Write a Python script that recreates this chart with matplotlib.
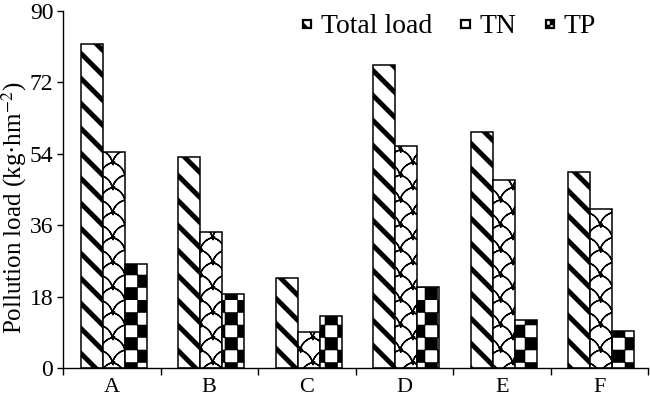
import numpy as np
import matplotlib
matplotlib.use("Agg")
import matplotlib.pyplot as plt
import matplotlib.hatch as mhatch
from matplotlib.path import Path
from matplotlib.patches import Rectangle
from matplotlib.legend_handler import HandlerPatch

# ---------------- data ----------------
categories = ["A", "B", "C", "D", "E", "F"]
total_load = [81.7, 53.2, 22.7, 76.4, 59.5, 49.4]
tn_load = [54.5, 34.3, 9.1, 56.0, 47.4, 40.1]
tp_load = [26.2, 18.6, 13.1, 20.4, 12.1, 9.3]
series_names = ["Total load", "TN", "TP"]
y_ticks = [0, 18, 36, 54, 72, 90]

# ---------------- custom hatch patterns ----------------
_orig_get_path = mhatch.get_path


def _stripes_path():
    verts, codes = [], []
    w = 0.05
    for c in np.arange(-0.5, 2.51, 0.25):
        x0, x1 = -0.2, 1.2
        pts = [(x0, -x0 + c), (x1, -x1 + c), (x1, -x1 + c + w), (x0, -x0 + c + w), (x0, -x0 + c)]
        verts += pts
        codes += [Path.MOVETO, Path.LINETO, Path.LINETO, Path.LINETO, Path.CLOSEPOLY]
    return Path(np.array(verts), codes)


def _checker_path():
    verts, codes = [], []
    n = 8
    s = 1.0 / n
    m = 0.004
    for i in range(n):
        for j in range(n):
            if (i + j) % 2 == 0:
                x, y = i * s, j * s
                verts += [(x + m, y + m), (x + s - m, y + m), (x + s - m, y + s - m),
                          (x + m, y + s - m), (x + m, y + m)]
                codes += [Path.MOVETO, Path.LINETO, Path.LINETO, Path.LINETO, Path.CLOSEPOLY]
    return Path(np.array(verts), codes)


def _scallop_path():
    verts, codes = [], []
    step = 0.25
    bow = 0.025
    t = np.linspace(0, 1, 9)

    def add_curve(p0, p1):
        p0 = np.array(p0)
        p1 = np.array(p1)
        d = p1 - p0
        nrm = np.array([-d[1], d[0]])
        nrm = nrm / np.linalg.norm(nrm)
        pts = [p0 + d * tt + nrm * bow * 4 * tt * (1 - tt) for tt in t]
        full = pts + pts[::-1][1:]
        verts.extend(full)
        codes.extend([Path.MOVETO] + [Path.LINETO] * (len(full) - 1))

    h = step / 2
    for i in range(-2, 10):
        for j in range(-2, 10):
            if (i + j) % 2 != 0:
                continue
            p = (i * h, j * h)
            add_curve(p, ((i + 1) * h, (j + 1) * h))
            add_curve(p, ((i + 1) * h, (j - 1) * h))
    return Path(np.array(verts), codes)


_custom = {"*-": _stripes_path(), "*+": _checker_path(), "*|": _scallop_path()}


def _get_path(hatchpattern, density=6):
    if hatchpattern in _custom:
        return _custom[hatchpattern]
    return _orig_get_path(hatchpattern, density)


mhatch.get_path = _get_path
hatches = ["*-", "*|", "*+"]


def _square_handle(legend, orig_handle, xdescent, ydescent, width, height, fontsize):
    s = 0.3 * fontsize
    return Rectangle((-xdescent + (width - s) / 2, -ydescent + (height - s) / 2), s, s)


# ---------------- style ----------------
plt.rcParams["font.family"] = ["Liberation Serif", "DejaVu Serif"]
plt.rcParams["mathtext.fontset"] = "stix"
plt.rcParams["hatch.linewidth"] = 1.0
plt.rcParams["hatch.color"] = "black"

fig = plt.figure(figsize=(6.5, 3.97), dpi=100)
ax = fig.add_axes([63 / 650, 1 - 368 / 397, 585 / 650, 357 / 397])

x = np.arange(len(categories))
bw = 0.225
shift = 0.02
bars = []
for k, (vals, hatch, name) in enumerate(zip([total_load, tn_load, tp_load], hatches, series_names)):
    b = ax.bar(x + shift + (k - 1) * bw, vals, width=bw, color="white", edgecolor="black",
               linewidth=1.1, hatch=hatch, label=name, zorder=2)
    bars.append(b)

ax.set_xlim(-0.5, len(categories) - 0.5)
ax.set_ylim(0, 90)
ax.set_yticks(y_ticks)
ax.set_xticks(x)
ax.set_xticklabels(categories)
ax.set_xticks(np.arange(-0.5, len(categories), 1.0), minor=True)
ax.tick_params(axis="x", which="major", length=0, labelsize=16, pad=7)
ax.tick_params(axis="x", which="minor", length=5, width=1.0, direction="out")
ax.tick_params(axis="y", length=4, width=1.0, direction="out", labelsize=17, pad=3)

for sp in ["top", "right"]:
    ax.spines[sp].set_visible(False)
for sp in ["left", "bottom"]:
    ax.spines[sp].set_linewidth(1.0)

ax.set_ylabel("Pollution load (kg·hm$^{-2}$)", fontsize=18)
ax.yaxis.set_label_coords((29 - 63) / 585, (368 - 208) / 357)

handles = [b.patches[0] for b in bars]
leg = ax.legend(handles, series_names, loc="upper right", bbox_to_anchor=(596 / 650, 1 - 14 / 397),
                bbox_transform=fig.transFigure, ncol=3, frameon=False, fontsize=20,
                handlelength=0.4, handleheight=0.7, handletextpad=0.3,
                columnspacing=1.0, borderaxespad=0, borderpad=0.0,
                handler_map={Rectangle: HandlerPatch(patch_func=_square_handle)})
for p in leg.get_patches():
    p.set_linewidth(1.6)

fig.savefig("out.png", dpi=100)
